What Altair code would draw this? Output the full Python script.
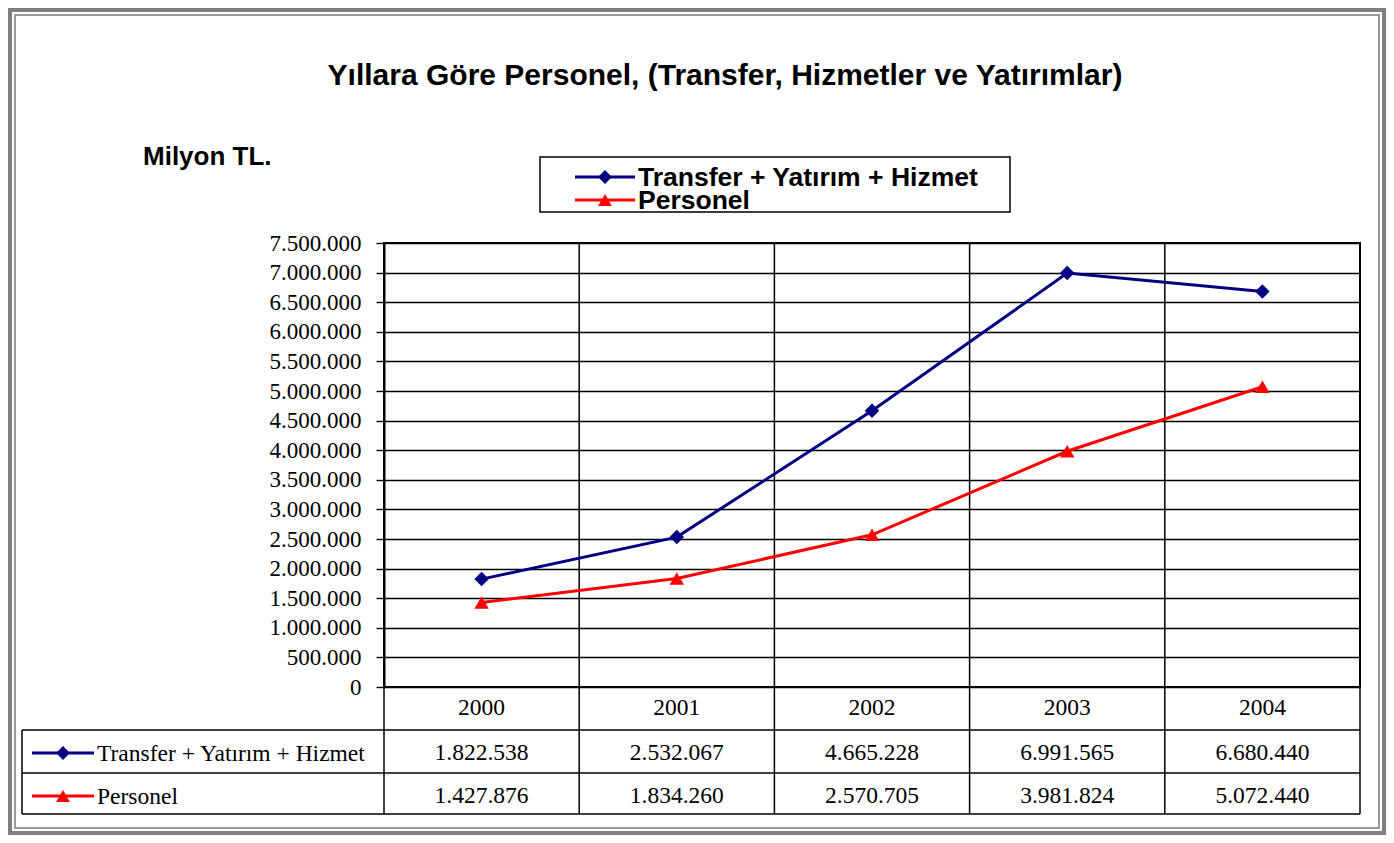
import altair as alt
import pandas as pd

# ---------------- data ----------------
years = [2000, 2001, 2002, 2003, 2004]
transfer = [1822538, 2532067, 4665228, 6991565, 6680440]
personel = [1427876, 1834260, 2570705, 3981824, 5072440]
series_names = ["Transfer + Yatırım + Hizmet", "Personel"]
y_ticks = list(range(0, 7500001, 500000))
title_text = "Yıllara Göre Personel, (Transfer, Hizmetler ve Yatırımlar)"
unit_text = "Milyon TL."

BLUE = "#000080"
RED = "#FF0000"
SERIF = "Liberation Serif"
SANS = "Liberation Sans"


def fmt(v):
    return f"{v:,}".replace(",", ".")


long = pd.DataFrame({
    "year": years * 2,
    "value": transfer + personel,
    "series": [series_names[0]] * len(years) + [series_names[1]] * len(years),
})
long["label"] = long["value"].map(fmt)
year_df = pd.DataFrame({"year": years, "label": [str(y) for y in years]})
bounds = pd.DataFrame({"b": [y - 0.5 for y in years] + [years[-1] + 0.5]})
one = pd.DataFrame({"k": [0]})

# plot area placement on page
PL, PT = 384, 243
W, H = 976, 444


def PX(x):
    return x - PL


def PY(y):
    return y - PT


xs = alt.Scale(domain=[years[0] - 0.5, years[-1] + 0.5], nice=False, zero=False)
ys = alt.Scale(domain=[0, 7500000], nice=False)
color_scale = alt.Scale(domain=series_names, range=[BLUE, RED])
shape_scale = alt.Scale(domain=series_names, range=["diamond", "triangle-up"])


def hrule(x1, x2, y, color="black", w=1.5):
    return alt.Chart(one).mark_rule(color=color, strokeWidth=w).encode(
        x=alt.value(PX(x1)), x2=alt.value(PX(x2)), y=alt.value(PY(y)))


def vrule(x, y1, y2, color="black", w=1.5):
    return alt.Chart(one).mark_rule(color=color, strokeWidth=w).encode(
        x=alt.value(PX(x)), y=alt.value(PY(y1)), y2=alt.value(PY(y2)))


def box(x1, y1, x2, y2, stroke, w, fill="white", fo=0):
    return alt.Chart(one).mark_rect(stroke=stroke, strokeWidth=w, fill=fill, fillOpacity=fo).encode(
        x=alt.value(PX(x1)), x2=alt.value(PX(x2)), y=alt.value(PY(y1)), y2=alt.value(PY(y2)))


def label(text, x, y, size, font, bold=False, align="left"):
    return alt.Chart(one).mark_text(text=text, font=font, fontSize=size,
                                    fontWeight="bold" if bold else "normal",
                                    align=align, baseline="middle", color="black").encode(
        x=alt.value(PX(x)), y=alt.value(PY(y)))


def key(x1, x2, y, color, shape, size=190):
    line = alt.Chart(one).mark_rule(color=color, strokeWidth=3).encode(
        x=alt.value(PX(x1)), x2=alt.value(PX(x2)), y=alt.value(PY(y)))
    pt = alt.Chart(one).mark_point(shape=shape, filled=True, color=color, size=size, opacity=1).encode(
        x=alt.value(PX((x1 + x2) / 2)), y=alt.value(PY(y)))
    return line + pt


layers = []
# page frame
layers.append(box(10, 10, 1384, 833, "#808080", 4))
layers.append(box(15, 15, 1379, 828, "#9a9a9a", 2))

# vertical grid / table column lines
layers.append(alt.Chart(bounds).mark_rule(color="black", strokeWidth=1.5).encode(
    x=alt.X("b:Q", scale=xs, axis=None), y=alt.value(0), y2=alt.value(PY(814))))

# table horizontal lines
for yy in [730, 773, 814]:
    layers.append(hrule(22, 1360, yy))
layers.append(vrule(22, 730, 814))

# data lines
base = alt.Chart(long).encode(
    x=alt.X("year:Q", scale=xs, axis=None),
    y=alt.Y("value:Q", scale=ys, axis=alt.Axis(
        values=y_ticks, title=None, grid=True, gridColor="black", gridWidth=1.4, gridOpacity=1,
        domain=True, domainColor="black", domainWidth=2,
        ticks=True, tickColor="black", tickSize=8, tickWidth=1.4,
        labelFont=SERIF, labelFontSize=23, labelColor="black", labelPadding=15,
        labelExpr="join(split(format(datum.value, ','), ','), '.')")),
    color=alt.Color("series:N", scale=color_scale, legend=None),
)
layers.append(base.mark_line(strokeWidth=3))
layers.append(base.mark_point(filled=True, size=210, opacity=1).encode(
    shape=alt.Shape("series:N", scale=shape_scale, legend=None)))

# table text
TS = 23.5
layers.append(alt.Chart(year_df).mark_text(font=SERIF, fontSize=TS, color="black", baseline="middle").encode(
    x=alt.X("year:Q", scale=xs, axis=None), y=alt.value(PY(708)), text="label:N"))
for i, (nm, yy) in enumerate(zip(series_names, [753, 796])):
    layers.append(alt.Chart(long).transform_filter(alt.datum.series == nm).mark_text(
        font=SERIF, fontSize=TS, color="black", baseline="middle").encode(
        x=alt.X("year:Q", scale=xs, axis=None), y=alt.value(PY(yy)), text="label:N"))

# table legend keys
layers.append(key(32, 94, 753, BLUE, "diamond"))
layers.append(label(series_names[0], 97, 754, TS, SERIF))
layers.append(key(32, 94, 796, RED, "triangle-up"))
layers.append(label(series_names[1], 97, 797, TS, SERIF))

# title, unit
layers.append(label(title_text, 725, 76, 30, SANS, bold=True, align="center"))
layers.append(label(unit_text, 143, 157, 26, SANS, bold=True))

# legend box
layers.append(box(540, 157, 1010, 212, "black", 1.5, fill="white", fo=1))
layers.append(key(575, 635, 177, BLUE, "diamond"))
layers.append(label(series_names[0], 638, 178, 26.5, SANS, bold=True))
layers.append(key(575, 635, 200, RED, "triangle-up"))
layers.append(label(series_names[1], 638, 201, 26.5, SANS, bold=True))

chart = alt.layer(*layers).properties(
    width=W, height=H,
    padding={"left": PL - 8, "top": PT - 8, "right": 1378 - (PL - 8) - W, "bottom": 827 - (PT - 8) - H},
    autosize=alt.AutoSizeParams(type="none"),
    background="white",
).configure_view(stroke="black", strokeWidth=2)

chart.save("out.html", embed_options={"renderer": "svg", "actions": False})
